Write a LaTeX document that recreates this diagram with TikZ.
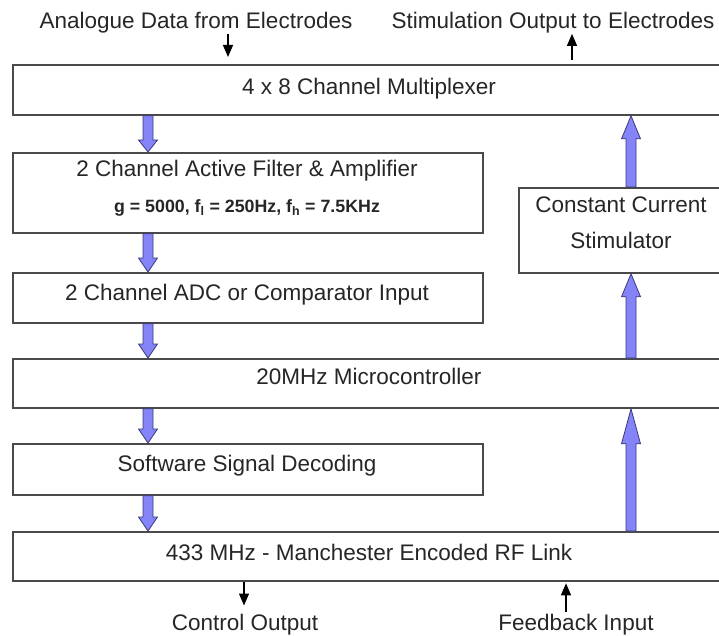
\documentclass[tikz,border=0pt]{standalone}
\usepackage{fontspec}
\setmainfont{Liberation Sans}
\usetikzlibrary{calc,arrows.meta}
\definecolor{boxline}{HTML}{4A4A4A}
\definecolor{arrfill}{HTML}{8484F8}
\definecolor{arrline}{HTML}{3A3A7A}
\tikzset{
  blk/.style={draw=boxline, line width=1.8pt, fill=white, rectangle, inner sep=0pt, anchor=north west},
  txt/.style={inner sep=0pt, anchor=base, font=\fontsize{22.5}{27}\selectfont, text=black!85},
  boldtxt/.style={inner sep=0pt, anchor=base, font=\fontsize{17.8}{20}\selectfont\bfseries, text=black!85},
  thinarr/.style={line width=1.3pt, -{Triangle[width=10pt,length=12pt]}},
  barrowstyle/.style={fill=arrfill, draw=arrline, line width=0.8pt, line join=miter},
}
\newcommand\blockarrow[3]{%
  \draw[barrowstyle] let \p1=(#1), \p2=(#2), \n1={#3*sign((\y1)-(\y2))} in
   (\x1-5pt,\y1) -- (\x1-5pt,{\y2+\n1*1pt}) -- (\x1-9.5pt,{\y2+\n1*1pt}) -- (\x1,\y2)
   -- (\x1+9.5pt,{\y2+\n1*1pt}) -- (\x1+5pt,{\y2+\n1*1pt}) -- (\x1+5pt,\y1) -- cycle;}
\begin{document}
\begin{tikzpicture}[x=1pt,y=-1pt]
\useasboundingbox (0,0) rectangle (719,636);
% guide coordinates
\coordinate (LX) at (148,0);
\coordinate (RX) at (631,0);
\coordinate (AX) at (228,0);
\coordinate (SX) at (572,0);
\coordinate (CX) at (244,0);
\coordinate (FX) at (566,0);
% boxes
\node[blk, minimum width=714pt, minimum height=50pt] (mux) at (12,64) {};
\node[blk, minimum width=470pt, minimum height=80pt] (filt) at (12,152) {};
\node[blk, minimum width=208pt, minimum height=85pt] (ccs) at (518,187) {};
\node[blk, minimum width=470pt, minimum height=50pt] (adc) at (12,272) {};
\node[blk, minimum width=714pt, minimum height=49pt] (mcu) at (12,358) {};
\node[blk, minimum width=470pt, minimum height=51pt] (sw) at (12,443) {};
\node[blk, minimum width=714pt, minimum height=49pt] (rf) at (12,531) {};
% texts
\node[txt] (anlT) at (196,29) {Analogue Data from Electrodes};
\node[txt] (stimT) at (553,29) {Stimulation Output to Electrodes};
\node[txt] (muxT) at (369,95) {4 x 8 Channel Multiplexer};
\node[txt] (filtT) at (247,177) {2 Channel Active Filter \& Amplifier};
\node[boldtxt] (filtP) at (247,212) {g = 5000, f\textsubscript{l} = 250Hz, f\textsubscript{h} = 7.5KHz};
\node[txt] (ccsT1) at (621,212) {Constant Current};
\node[txt] (ccsT2) at (621,248) {Stimulator};
\node[txt] (adcT) at (247,300) {2 Channel ADC or Comparator Input};
\node[txt] (mcuT) at (369,384) {20MHz Microcontroller};
\node[txt] (swT) at (247,471) {Software Signal Decoding};
\node[txt] (rfT) at (369,560) {433 MHz - Manchester Encoded RF Link};
\node[txt] (ctlT) at (245,630) {Control Output};
\node[txt] (fbT) at (576,630) {Feedback Input};
% thin black arrows
\draw[thinarr, shorten >=7pt] (anlT.south -| AX) -- (mux.north -| AX);
\draw[thinarr, shorten <=4pt] (mux.north -| SX) -- (stimT.south -| SX);
\draw[thinarr, shorten >=8pt] (rf.south -| CX) -- (ctlT.north -| CX);
\draw[thinarr, shorten >=1.5pt, shorten <=2pt] (fbT.north -| FX) -- (rf.south -| FX);
% block arrows (left chain, downward)
\blockarrow{mux.south -| LX}{filt.north -| LX}{12}
\blockarrow{filt.south -| LX}{adc.north -| LX}{14}
\blockarrow{adc.south -| LX}{mcu.north -| LX}{14}
\blockarrow{mcu.south -| LX}{sw.north -| LX}{14}
\blockarrow{sw.south -| LX}{rf.north -| LX}{14}
% block arrows (right chain, upward)
\blockarrow{ccs.north -| RX}{mux.south -| RX}{23}
\blockarrow{mcu.north -| RX}{ccs.south -| RX}{23}
\blockarrow{rf.north -| RX}{mcu.south -| RX}{35}
\end{tikzpicture}
\end{document}
